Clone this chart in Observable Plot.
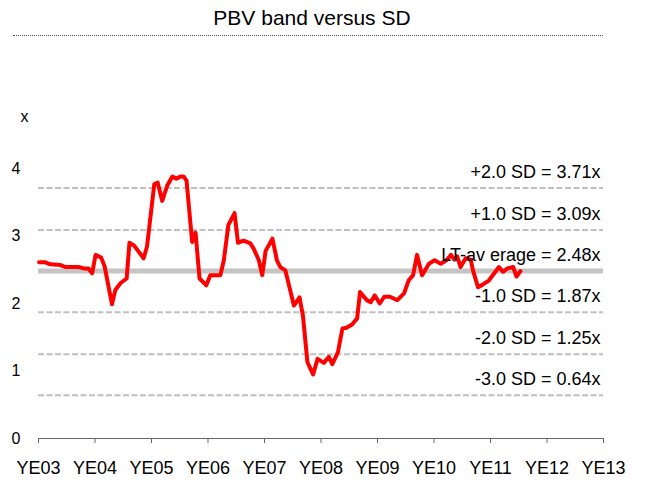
<!DOCTYPE html>
<html><head><meta charset="utf-8">
<script src="https://cdn.jsdelivr.net/npm/d3@7"></script>
<script src="https://cdn.jsdelivr.net/npm/@observablehq/plot@0.6"></script>
<style>
body{margin:0;background:#fff;font-family:"Liberation Sans",Arial,sans-serif;}
#wrap{position:relative;width:648px;height:483px;overflow:hidden;}
#title{position:absolute;left:12px;width:600px;top:6px;text-align:center;font-size:21px;line-height:24px;color:#000;}
#rule{position:absolute;left:13px;width:590px;top:35px;border-top:1px dotted #555;}
#chart{position:absolute;left:0;top:40px;}
</style></head><body>
<div id="wrap"><div id="title">PBV band versus SD</div><div id="rule"></div><div id="chart"></div></div>
<script>
// time as decimal year (YE03 = 2003.0), PBV multiple
const years = [2003.01,2003.12,2003.21,2003.39,2003.48,2003.71,2003.80,2003.88,2003.95,2004.01,
  2004.11,2004.17,2004.30,2004.36,2004.45,2004.56,2004.61,2004.69,2004.86,2004.92,
  2005.05,2005.11,2005.19,2005.28,2005.37,2005.44,2005.51,2005.57,2005.62,2005.72,
  2005.78,2005.85,2005.97,2006.04,2006.22,2006.28,2006.36,2006.47,2006.53,2006.63,
  2006.75,2006.81,2006.90,2006.96,2007.02,2007.14,2007.22,2007.28,2007.37,2007.52,
  2007.62,2007.68,2007.76,2007.86,2007.94,2008.05,2008.14,2008.20,2008.30,2008.38,
  2008.45,2008.55,2008.64,2008.69,2008.81,2008.88,2008.95,2009.04,2009.12,2009.22,
  2009.35,2009.47,2009.55,2009.63,2009.70,2009.79,2009.91,2010.01,2010.12,2010.22,
  2010.30,2010.36,2010.41,2010.47,2010.56,2010.65,2010.69,2010.78,2010.88,2010.97,
  2011.06,2011.15,2011.22,2011.30,2011.40,2011.46,2011.53];
const pbv = [2.61,2.61,2.58,2.57,2.54,2.54,2.52,2.52,2.45,2.72,
  2.68,2.55,1.99,2.20,2.30,2.37,2.90,2.86,2.67,2.84,
  3.77,3.79,3.52,3.75,3.88,3.85,3.88,3.88,3.82,2.91,
  3.05,2.37,2.27,2.42,2.42,2.64,3.16,3.34,2.90,2.93,
  2.89,2.81,2.64,2.42,2.78,2.96,2.64,2.54,2.49,1.97,
  2.09,1.82,1.13,0.95,1.18,1.12,1.21,1.10,1.28,1.63,
  1.64,1.69,1.78,2.17,2.05,2.02,2.12,2.00,2.10,2.10,
  2.05,2.15,2.34,2.42,2.72,2.42,2.59,2.64,2.59,2.64,
  2.72,2.65,2.70,2.54,2.67,2.65,2.49,2.24,2.29,2.34,
  2.44,2.54,2.47,2.52,2.54,2.40,2.48];

const bandNames = ["+2.0 SD","+1.0 SD","LT-av erage","-1.0 SD","-2.0 SD","-3.0 SD"];
const bandValues = [3.71,3.09,2.48,1.87,1.25,0.64];
const xTicks = [2003,2004,2005,2006,2007,2008,2009,2010,2011,2012,2013];
const xTickLabels = ["YE03","YE04","YE05","YE06","YE07","YE08","YE09","YE10","YE11","YE12","YE13"];
const yTicks = [0,1,2,3,4];
const yTickLabels = ["0","1","2","3","4"];

const series = years.map((t,i)=>({t, v: pbv[i]}));
const bands = bandNames.map((n,i)=>({name:n, value:bandValues[i], avg: n.startsWith("LT"), label:`${n} = ${bandValues[i].toFixed(2)}x`}));

const chart = Plot.plot({
  width: 648, height: 443,
  marginLeft: 38, marginRight: 45, marginTop: 60.5, marginBottom: 45,
  style: {fontFamily: "'Liberation Sans', Arial, sans-serif", fontSize: "16px", color: "#000", background: "#fff"},
  x: {domain: [2003, 2013], label: null},
  y: {domain: [0, 5], label: null},
  marks: [
    Plot.ruleY(bands.filter(d=>!d.avg), {y: "value", x1: 2003, x2: 2013, stroke: "#c0c0c0", strokeWidth: 2, strokeDasharray: "6,2.5"}),
    Plot.ruleY(bands.filter(d=>d.avg), {y: "value", x1: 2003, x2: 2013, stroke: "#c4c4c4", strokeWidth: 5}),
    Plot.ruleY([0], {x1: 2003, x2: 2013, stroke: "#666", strokeWidth: 1}),
    Plot.axisX({ticks: xTicks, tickFormat: d => xTickLabels[xTicks.indexOf(d)], tickSize: 5, tickPadding: 18, fontSize: 18, stroke: "#666"}),
    Plot.axisY({ticks: yTicks, tickFormat: d => yTickLabels[yTicks.indexOf(d)], tickSize: 0, tickPadding: 18, fontSize: 16}),
    Plot.text(["x"], {frameAnchor: "top-left", dx: -18, dy: 10, fontSize: 16}),
    Plot.line(series, {x: "t", y: "v", stroke: "#ff0000", strokeWidth: 4, strokeLinejoin: "round"}),
    Plot.text(bands, {x: 2013, y: "value", text: "label", textAnchor: "end", dx: -3, dy: -16, fontSize: 18, fill: "#000"})
  ]
});
document.getElementById("chart").appendChild(chart);
</script>
</body></html>
